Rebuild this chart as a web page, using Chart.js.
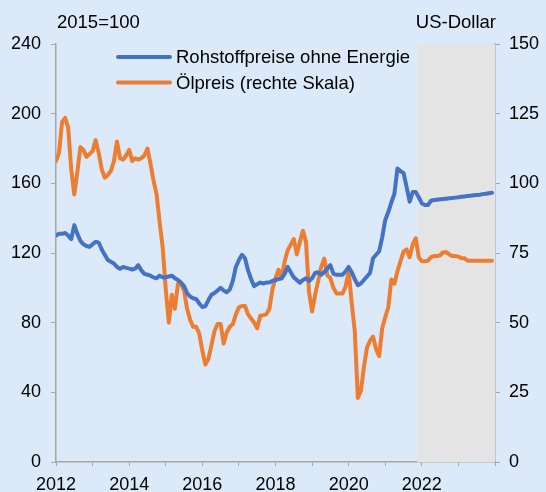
<!DOCTYPE html>
<html lang="de">
<head>
<meta charset="UTF-8">
<title>Rohstoffpreise</title>
<script src="https://cdn.jsdelivr.net/npm/chart.js@4"></script>
<style>
  body { margin: 0; background: #dce9f8; }
  .chart-box { width: 546px; height: 492px; }
</style>
</head>
<body>
<div class="chart-box"><canvas id="priceChart" width="546" height="492"></canvas></div>
<script>
// monthly values Jan 2012 - Dec 2023
const startYear = 2012;
const forecastStart = 2021.87;

const seriesNames = ['Rohstoffpreise ohne Energie', 'Ölpreis (rechte Skala)'];
const leftTitle = '2015=100';
const rightTitle = 'US-Dollar';
const xTickLabels = ['2012', '2014', '2016', '2018', '2020', '2022'];

const nonEnergy = [
  130, 131, 131, 131.5, 130, 128, 136, 131, 127, 125, 124, 123.5,
  125, 126.5, 126, 122, 119, 116, 115, 114, 112, 111, 112, 111.5,
  111, 110.5, 111, 113, 110, 108, 107.5, 107, 106, 105.5, 107, 106,
  106, 106.5, 107, 105.5, 104.5, 103, 101, 97, 95, 94, 93.5, 91,
  89, 89.5, 93, 96, 97, 98.5, 100, 98.5, 97.5, 99, 104, 112,
  116, 119, 117, 110, 105, 101, 102, 103, 102.5, 103, 103, 104,
  104.5, 105, 105.5, 108, 112, 109, 106, 104.5, 103, 104.5, 105.5, 104,
  105.5, 108.5, 109, 107.5, 109, 111, 113, 108, 107.5, 107.5, 107.5, 109.5,
  112, 109, 105, 101.5, 102.5, 104.5, 106.5, 108.5, 117, 119, 121, 129,
  139, 143.5, 149, 154, 168.5, 167, 166, 158, 149.5, 155, 155, 152,
  148.5, 147.5, 147.5, 150, 150.4, 150.6, 150.8, 151, 151.2, 151.4, 151.6, 151.8,
  152, 152.3, 152.5, 152.7, 152.9, 153.1, 153.3, 153.5, 153.8, 154, 154.3, 154.6
];

const oilPrice = [
  108, 111, 122, 123.5, 120, 105, 96, 104, 113, 112, 109.5, 110.5,
  111.5, 115.5, 111, 105, 102, 103, 104.5, 108, 115, 109, 108.5, 110,
  112, 108, 109, 108.5, 109, 110, 112.5, 107, 101, 96, 86, 77,
  62, 50, 60, 55, 64, 64, 61.5, 55, 51, 48.5, 48.5, 46,
  40, 35, 37, 42, 47, 49.5, 49.5, 42.5, 46.5, 48.5, 49.5, 53,
  55.5, 56, 56, 53, 51.5, 50, 48, 52.5, 52.7, 53, 55, 62,
  66, 69, 66, 72, 76, 78, 80, 74.5, 79, 83, 79, 61,
  54, 60, 65, 70, 73, 67, 66, 62.5, 60.5, 60.5, 60.5, 63,
  68.5, 57, 47, 23, 25.5, 34, 41, 43.5, 45, 40.5, 38, 48,
  52, 55.5, 65.5, 64, 68.5, 72, 75.5, 76.3, 73.5, 78, 80.3, 73.5,
  72, 72, 72.2, 73.5, 73.9, 73.9, 74.2, 75.3, 75.3, 74.5, 73.9, 73.9,
  73.7, 73.1, 73.1, 72.2, 72.2, 72.2, 72.2, 72.2, 72.2, 72.2, 72.2, 72.2
];

const months = nonEnergy.map((_, i) => startYear + i / 12);

const colors = ['#4472c4', '#ed7d31'];
const axisColor = '#a6a6a6';
const fontFamily = 'Liberation Sans, Arial, sans-serif';
const font = { family: fontFamily, size: 18 };

const forecastShade = {
  id: 'forecastShade',
  beforeDatasetsDraw(chart) {
    const { ctx, chartArea, scales } = chart;
    const x0 = scales.x.getPixelForValue(forecastStart);
    ctx.save();
    ctx.fillStyle = '#e4e4e4';
    ctx.fillRect(x0, chartArea.top, chartArea.right - x0, chartArea.bottom - chartArea.top);
    ctx.restore();
  }
};

const titlesAndLegend = {
  id: 'titlesAndLegend',
  afterDraw(chart) {
    const { ctx, chartArea } = chart;
    ctx.save();
    ctx.font = '18.5px ' + fontFamily;
    ctx.fillStyle = '#000';
    ctx.textBaseline = 'middle';
    ctx.textAlign = 'left';
    ctx.fillText(leftTitle, chartArea.left + 1, 23);
    ctx.textAlign = 'right';
    ctx.fillText(rightTitle, chartArea.right + 1, 23);

    ctx.textAlign = 'left';
    chart.data.datasets.forEach((ds, i) => {
      const y = 57 + i * 25.5;
      ctx.strokeStyle = ds.borderColor;
      ctx.lineWidth = 4;
      ctx.lineCap = 'round';
      ctx.beginPath();
      ctx.moveTo(118, y);
      ctx.lineTo(170, y);
      ctx.stroke();
      ctx.fillStyle = '#000';
      ctx.fillText(ds.label, 176, y + 1);
    });
    ctx.restore();
  }
};

new Chart(document.getElementById('priceChart'), {
  type: 'line',
  data: {
    datasets: [
      {
        label: seriesNames[0],
        data: months.map((m, i) => ({ x: m, y: nonEnergy[i] })),
        borderColor: colors[0],
        yAxisID: 'y'
      },
      {
        label: seriesNames[1],
        data: months.map((m, i) => ({ x: m, y: oilPrice[i] })),
        borderColor: colors[1],
        yAxisID: 'y2'
      }
    ]
  },
  options: {
    responsive: false,
    animation: false,
    layout: { padding: { top: 44 } },
    elements: {
      point: { radius: 0 },
      line: { borderWidth: 4, tension: 0, borderJoinStyle: 'round', borderCapStyle: 'round' }
    },
    plugins: {
      legend: { display: false },
      tooltip: { enabled: false }
    },
    scales: {
      x: {
        type: 'linear',
        min: 2012,
        max: 2024,
        afterFit: s => { s.height = 30; },
        grid: { drawOnChartArea: false, color: axisColor, tickLength: 4 },
        border: { color: axisColor, width: 1.5 },
        ticks: {
          stepSize: 1,
          autoSkip: false,
          maxRotation: 0,
          padding: 8,
          color: '#000',
          font: font,
          callback: v => xTickLabels.includes(String(v)) ? String(v) : ''
        }
      },
      y: {
        position: 'left',
        min: 0,
        max: 240,
        afterFit: s => { s.width = 56; },
        grid: { drawOnChartArea: false, color: axisColor, tickLength: 5 },
        border: { color: axisColor, width: 1.5 },
        ticks: { stepSize: 40, padding: 10, color: '#000', font: font }
      },
      y2: {
        position: 'right',
        min: 0,
        max: 150,
        afterFit: s => { s.width = 51; },
        grid: { drawOnChartArea: false, color: axisColor, tickLength: 5 },
        border: { color: axisColor, width: 1.5 },
        ticks: { stepSize: 25, padding: 9, color: '#000', font: font }
      }
    }
  },
  plugins: [forecastShade, titlesAndLegend]
});
</script>
</body>
</html>
